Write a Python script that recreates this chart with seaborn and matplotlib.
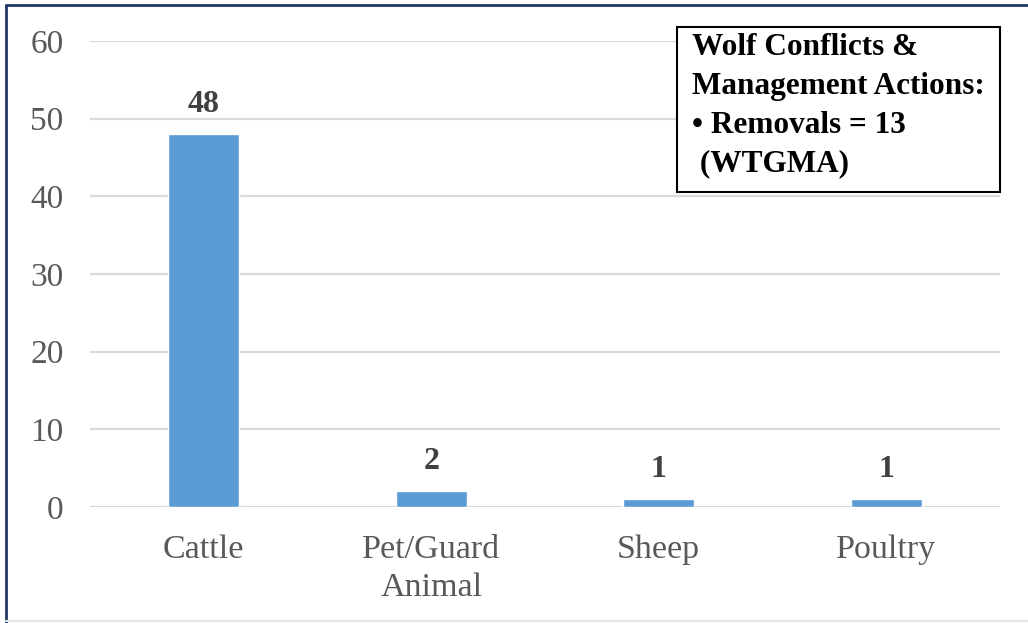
import matplotlib
matplotlib.use("Agg")
import matplotlib.pyplot as plt
from matplotlib.patches import Rectangle
from matplotlib.lines import Line2D
import seaborn as sns
import pandas as pd

# Depredation counts by livestock type
categories = ["Cattle", "Pet/Guard\nAnimal", "Sheep", "Poultry"]
counts = [48, 2, 1, 1]
y_ticks = [0, 10, 20, 30, 40, 50, 60]

info_lines = ["Wolf Conflicts &", "Management Actions:", "\u2022 Removals = 13", " (WTGMA)"]

sns.set_theme(style="white")
plt.rcParams["font.family"] = ["Liberation Serif", "DejaVu Serif"]

df = pd.DataFrame({"category": categories, "count": counts})

fig = plt.figure(figsize=(10.28, 6.23), dpi=100)
ax = fig.add_axes([90 / 1028, 116 / 623, 910 / 1028, 466 / 623])

sns.barplot(data=df, x="category", y="count", color="#5B9BD5", saturation=1,
            width=0.31, ax=ax, zorder=3)

ax.set_ylim(0, 60)
ax.set_xlim(-0.5, len(categories) - 0.5)
ax.set_yticks(y_ticks)
ax.set_yticklabels([str(v) for v in y_ticks])
ax.yaxis.grid(True, color="#D9D9D9", linewidth=1.6, zorder=0)
ax.set_axisbelow(True)
for s in ax.spines.values():
    s.set_visible(False)
ax.set_xlabel("")
ax.set_ylabel("")
ax.tick_params(axis="y", length=0, pad=19, labelsize=24, labelcolor="#595959")
ax.tick_params(axis="x", length=0, pad=20, labelsize=24.5, labelcolor="#595959")
for lbl in ax.get_xticklabels():
    lbl.set_linespacing(1.3)

# Value labels above bars
for c in ax.containers:
    ax.bar_label(c, labels=[str(v) for v in counts], padding=11,
                 fontsize=23, fontweight="bold", color="#404040")

# Info box in upper right
fig.patches.append(Rectangle((677 / 1028, 1 - 192 / 623), 323 / 1028, 165 / 623,
                             transform=fig.transFigure, facecolor="white",
                             edgecolor="black", linewidth=1.5, zorder=5))
fig.text(692 / 1028, 1 - 33 / 623, "\n".join(info_lines), ha="left", va="top",
         fontsize=22.5, fontweight="bold", color="black", linespacing=1.45, zorder=6)

# Frame lines around the figure
fig.add_artist(Line2D([6 / 1028, 6 / 1028], [0, 1 - 5 / 623], transform=fig.transFigure,
                      color="#203864", linewidth=2))
fig.add_artist(Line2D([6 / 1028, 1], [1 - 5 / 623, 1 - 5 / 623], transform=fig.transFigure,
                      color="#203864", linewidth=2))
fig.add_artist(Line2D([6 / 1028, 1], [2 / 623, 2 / 623], transform=fig.transFigure,
                      color="#E6E6E6", linewidth=1.5))

fig.savefig("out.png", dpi=100)
